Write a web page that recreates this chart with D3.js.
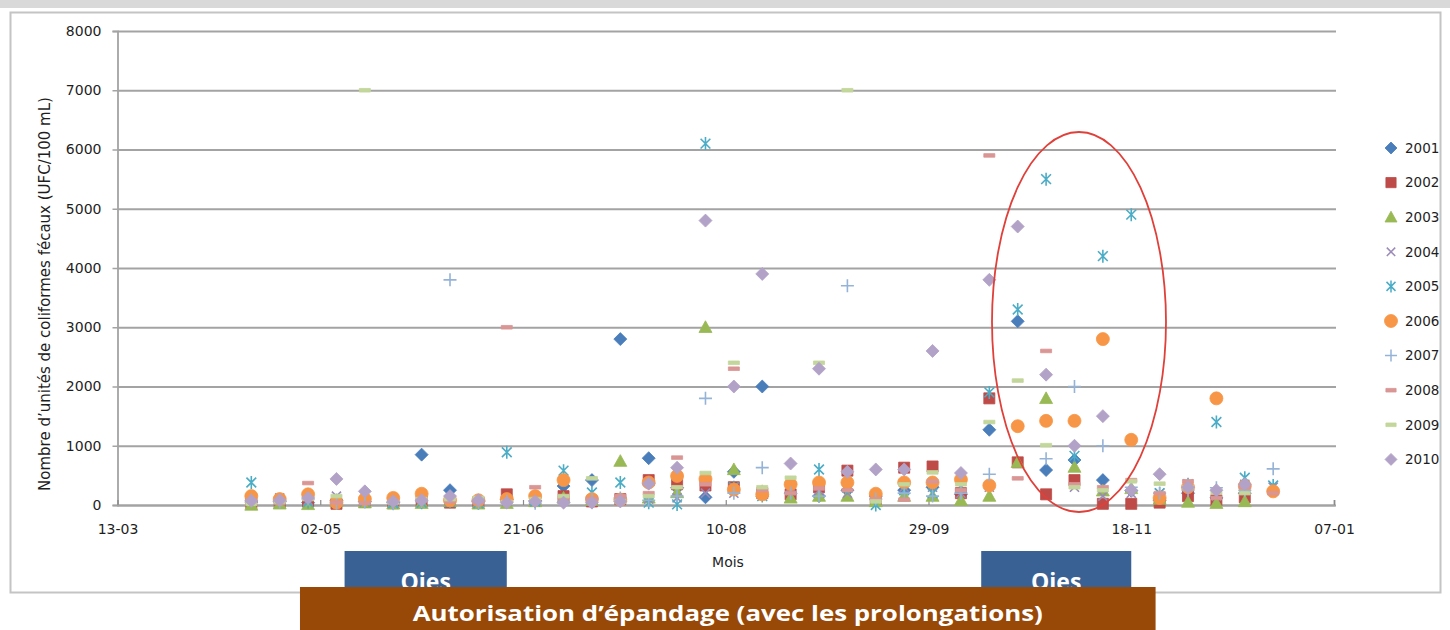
<!DOCTYPE html>
<html>
<head>
<meta charset="utf-8">
<script src="https://cdn.jsdelivr.net/npm/d3@7"></script>
<style>
  html, body { margin: 0; padding: 0; background: #ffffff; }
  svg { display: block; }
</style>
</head>
<body>
<svg id="chart" width="1450" height="630"></svg>
<script>
// Weekly sampling dates (day-month)
const sampleDates = ["15-04","22-04","29-04","06-05","13-05","20-05","27-05","03-06","10-06","17-06",
  "24-06","01-07","08-07","15-07","22-07","29-07","05-08","12-08","19-08","26-08",
  "02-09","09-09","16-09","23-09","30-09","07-10","14-10","21-10","28-10","04-11",
  "11-11","18-11","25-11","02-12","09-12","16-12","23-12"];

// Fecal coliform counts (UFC/100 mL) per year, one value per sampling date
const y2001 = [50,60,40,80,60,40,850,250,60,90,70,320,420,2800,790,290,130,560,2000,200,150,250,150,250,300,180,1270,3100,590,760,420,240,80,200,120,200,null];
const y2002 = [30,40,60,20,50,30,60,40,50,180,80,150,60,100,420,350,330,300,200,180,300,580,100,630,650,200,1800,720,180,420,20,20,40,150,80,130,null];
const y2003 = [0,20,10,60,40,20,30,60,20,30,60,120,80,740,120,210,3000,600,230,120,150,150,60,150,150,80,150,720,1800,640,240,280,100,50,30,60,null];
const y2004 = [100,120,80,150,60,50,100,80,60,60,80,100,100,80,100,120,200,200,200,300,250,200,150,300,300,200,300,null,null,300,150,200,200,350,150,350,300];
const y2005 = [380,80,50,50,60,30,40,50,30,890,60,580,210,380,40,10,6100,300,150,250,600,290,0,250,200,300,1900,3300,5500,830,4200,4900,200,350,1400,460,330];
const y2006 = [150,100,180,40,100,120,190,80,80,100,150,420,100,90,380,490,440,260,180,350,380,380,190,380,380,430,330,1330,1420,1420,2800,1100,120,300,1800,320,230];
const y2007 = [80,50,100,30,50,20,60,3800,40,60,30,60,100,120,80,150,1800,200,630,200,150,3700,100,200,150,200,520,null,780,2000,1000,300,200,250,290,250,610];
const y2008 = [60,40,370,40,30,40,80,60,50,3000,300,120,100,150,200,800,350,2300,250,200,280,250,100,90,400,250,5900,450,2600,350,300,420,200,400,120,300,200];
const y2009 = [20,60,100,150,7000,50,100,100,120,50,100,150,450,60,150,300,540,2400,300,460,2400,7000,60,350,550,350,1400,2100,1010,300,250,400,360,300,210,200,null];
const y2010 = [70,80,120,440,230,60,80,150,80,40,60,40,40,60,360,630,4800,2000,3900,700,2300,560,600,600,2600,540,3800,4700,2200,1000,1500,250,520,300,250,350,null];

const seriesNames = ["2001","2002","2003","2004","2005","2006","2007","2008","2009","2010"];
const seriesValues = [y2001,y2002,y2003,y2004,y2005,y2006,y2007,y2008,y2009,y2010];

const xTickLabels = ["13-03","02-05","21-06","10-08","29-09","18-11","07-01"];
const yTickValues = [0,1000,2000,3000,4000,5000,6000,7000,8000];

const yAxisTitle = "Nombre d’unités de coliformes fécaux (UFC/100 mL)";
const xAxisTitle = "Mois";
const goosePeriods = [["08-05","17-06"],["12-10","18-11"]];
const gooseLabel = "Oies";
const spreadingPeriod = ["27-04","24-11"];
const spreadingLabel = "Autorisation d’épandage (avec les prolongations)";

// Marker style per series: shape + colour
const markerStyle = [
  {shape: "diamond",  color: "#4A7EBB"},
  {shape: "square",   color: "#BE4B48"},
  {shape: "triangle", color: "#98B954"},
  {shape: "x",        color: "#9A8BB8"},
  {shape: "star",     color: "#4BACC6"},
  {shape: "circle",   color: "#F79646"},
  {shape: "plus",     color: "#95B3D7"},
  {shape: "dash",     color: "#D99694"},
  {shape: "dash",     color: "#C3D69B"},
  {shape: "diamond",  color: "#B3A2C7"}
];

const shapePath = {
  diamond:  r => `M0,${-r}L${r},0L0,${r}L${-r},0Z`,
  square:   r => `M${-r*0.85},${-r*0.85}H${r*0.85}V${r*0.85}H${-r*0.85}Z`,
  triangle: r => `M0,${-r}L${r},${r*0.8}L${-r},${r*0.8}Z`,
  circle:   r => `M${-r},0A${r},${r} 0 1,0 ${r},0A${r},${r} 0 1,0 ${-r},0Z`,
  x:        r => `M${-r*0.7},${-r*0.7}L${r*0.7},${r*0.7}M${-r*0.7},${r*0.7}L${r*0.7},${-r*0.7}`,
  star:     r => `M${-r*0.75},${-r*0.75}L${r*0.75},${r*0.75}M${-r*0.75},${r*0.75}L${r*0.75},${-r*0.75}M0,${-r}V${r}`,
  plus:     r => `M${-r},0H${r}M0,${-r}V${r}`,
  dash:     r => `M${-r*0.85},-1.8H${r*0.85}V1.8H${-r*0.85}Z`
};
const strokeOnly = new Set(["x","star","plus"]);

const svg = d3.select("#chart");
const W = 1450, H = 630;

// page furniture: top band and chart frame
svg.append("rect").attr("x",0).attr("y",0).attr("width",W).attr("height",8).attr("fill","#d9d9d9");
svg.append("rect").attr("x",10.5).attr("y",12.5).attr("width",1430).attr("height",580)
  .attr("fill","#ffffff").attr("stroke","#c4c4c4").attr("stroke-width",2);

const parseDM = d3.timeParse("%d-%m-%Y");
const toDate = s => parseDM(s + (+s.slice(3) < 3 ? "-2002" : "-2001"));

const tickDates = xTickLabels.map(toDate);
const x = d3.scaleTime().domain([tickDates[0], tickDates[tickDates.length-1]]).range([117.5, 1334]);
const y = d3.scaleLinear().domain([0, 8000]).range([505, 31]);

const plotRight = 1336;
const fontFam = "'DejaVu Sans', sans-serif";

// horizontal gridlines
svg.append("g").attr("transform","translate(117.5,0)")
  .call(d3.axisLeft(y).tickValues(yTickValues).tickSize(-(plotRight-117.5)).tickFormat(""))
  .call(g => g.select(".domain").remove())
  .call(g => g.selectAll("line").attr("stroke","#a3a3a3").attr("stroke-width",1.8));

// y axis with outward ticks and labels
svg.append("g").attr("transform","translate(117.5,0)")
  .call(d3.axisLeft(y).tickValues(yTickValues).tickSize(5).tickPadding(11).tickFormat(d3.format("d")))
  .call(g => g.select(".domain").attr("stroke","#a3a3a3").attr("stroke-width",1.8))
  .call(g => g.selectAll("line").attr("stroke","#a3a3a3").attr("stroke-width",1.5))
  .call(g => g.selectAll("text").attr("font-family",fontFam).attr("font-size",14).attr("fill","#1e1e1e"));

// x axis (date) with small inward ticks
svg.append("g").attr("transform","translate(0,505)")
  .call(d3.axisBottom(x).tickValues(tickDates).tickSize(-5).tickPadding(19).tickFormat(d3.timeFormat("%d-%m")))
  .call(g => g.select(".domain").attr("stroke","#a3a3a3").attr("stroke-width",1.8))
  .call(g => g.selectAll("line").attr("stroke","#8a8a8a").attr("stroke-width",1.2))
  .call(g => g.selectAll("text").attr("font-family",fontFam).attr("font-size",14).attr("fill","#1e1e1e"));

// axis titles
svg.append("text").attr("transform","translate(50,294) rotate(-90)")
  .attr("text-anchor","middle").attr("font-family",fontFam).attr("font-size",15).attr("fill","#1e1e1e")
  .text(yAxisTitle);
svg.append("text").attr("x",728).attr("y",567).attr("text-anchor","middle")
  .attr("font-family",fontFam).attr("font-size",14).attr("fill","#1e1e1e").text(xAxisTitle);

// scatter markers, drawn series by series
const R = 6.5;
seriesNames.forEach((name, i) => {
  const st = markerStyle[i];
  const pts = sampleDates.map((d, k) => ({date: toDate(d), value: seriesValues[i][k]}))
    .filter(p => p.value !== null);
  svg.append("g").attr("class","series s" + name)
    .selectAll("path").data(pts).join("path")
    .attr("transform", p => `translate(${x(p.date)},${y(p.value)})`)
    .attr("d", shapePath[st.shape](R))
    .attr("fill", strokeOnly.has(st.shape) ? "none" : st.color)
    .attr("stroke", st.color)
    .attr("stroke-width", strokeOnly.has(st.shape) ? 1.6 : 0.8);
});

// legend
const legend = svg.append("g");
seriesNames.forEach((name, i) => {
  const st = markerStyle[i];
  const ly = 148 + i * 34.6;
  legend.append("path").attr("transform",`translate(1391,${ly})`)
    .attr("d", shapePath[st.shape](st.shape === "circle" ? 6.5 : 6))
    .attr("fill", strokeOnly.has(st.shape) ? "none" : st.color)
    .attr("stroke", st.color).attr("stroke-width", strokeOnly.has(st.shape) ? 1.5 : 0.8);
  legend.append("text").attr("x",1405).attr("y",ly).attr("dy","0.36em")
    .attr("font-family",fontFam).attr("font-size",13.5).attr("fill","#1e1e1e").text(name);
});

// highlighted autumn peak
svg.append("ellipse").attr("cx",1079).attr("cy",322).attr("rx",87).attr("ry",190)
  .attr("fill","none").attr("stroke","#E0403A").attr("stroke-width",1.8);

// goose presence periods
goosePeriods.forEach(([a, b]) => {
  const x0 = x(toDate(a)), x1 = x(toDate(b));
  svg.append("rect").attr("x",x0).attr("y",551).attr("width",x1-x0).attr("height",45).attr("fill","#3A6194");
  svg.append("text").attr("x",(x0+x1)/2).attr("y",590).attr("text-anchor","middle")
    .attr("font-family","'Open Sans', sans-serif").attr("font-weight",700).attr("font-size",23)
    .attr("fill","#ffffff").text(gooseLabel);
});

// manure spreading authorisation period
const sA = toDate(spreadingPeriod[0]), sB = toDate(spreadingPeriod[1]);
svg.append("rect").attr("x",x(sA)).attr("y",587).attr("width",x(sB)-x(sA)).attr("height",50).attr("fill","#984807");
svg.append("text").attr("x",(x(sA)+x(sB))/2).attr("y",621).attr("text-anchor","middle")
  .attr("font-family","'Open Sans', sans-serif").attr("font-weight",700).attr("font-size",22)
  .attr("fill","#ffffff").attr("textLength",630).attr("lengthAdjust","spacingAndGlyphs")
  .text(spreadingLabel);
</script>
</body>
</html>
